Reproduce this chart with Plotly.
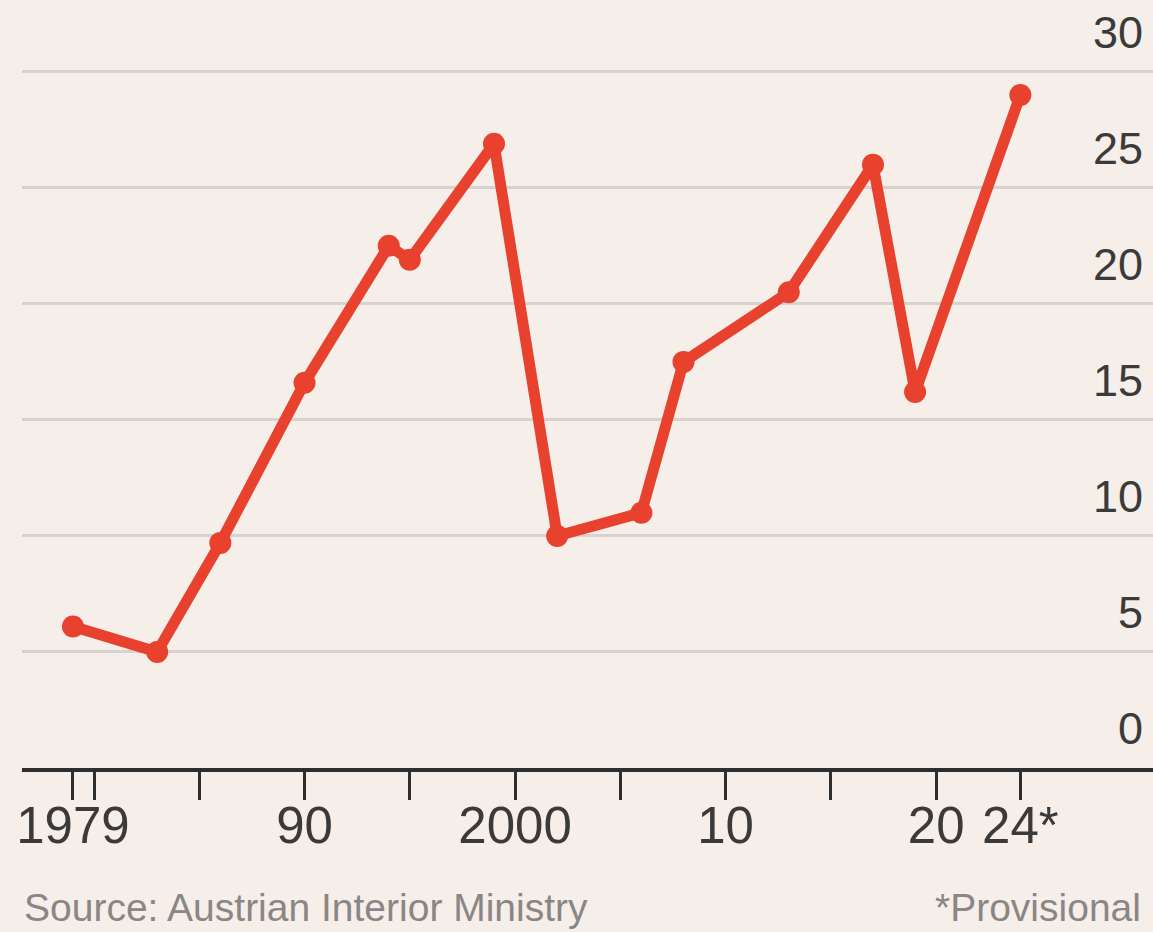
import plotly.graph_objects as go

# Election years and vote share (%)
years = [1979, 1983, 1986, 1990, 1994, 1995, 1999, 2002, 2006, 2008, 2013, 2017, 2019, 2024]
share = [6.1, 5.0, 9.7, 16.6, 22.5, 21.9, 26.9, 10.0, 11.0, 17.5, 20.5, 26.0, 16.2, 29.0]

# Axis ticks
x_tickvals = [1979, 1980, 1985, 1990, 1995, 2000, 2005, 2010, 2015, 2020, 2024]
x_ticktext = ["1979", "", "", "90", "", "2000", "", "10", "", "20", "24*"]
y_tickvals = [0, 5, 10, 15, 20, 25, 30]

BG = "#f6eee9"
RED = "#e8412d"
TEXT = "#3a3a3a"
NOTE = "#8a8685"
FONT = "Liberation Sans, Arial, sans-serif"

fig = go.Figure()
fig.add_trace(go.Scatter(
    x=years, y=share, mode="lines+markers",
    line=dict(color=RED, width=11),
    marker=dict(color=RED, size=22),
    cliponaxis=False, hoverinfo="x+y", showlegend=False,
))

fig.update_layout(
    width=1153, height=932,
    paper_bgcolor=BG, plot_bgcolor=BG,
    margin=dict(l=22, r=0, t=37, b=164),
    font=dict(family=FONT, color=TEXT),
    xaxis=dict(
        range=[1976.58, 2030.3],
        tickmode="array", tickvals=x_tickvals, ticktext=x_ticktext,
        ticks="outside", ticklen=28, tickwidth=3, tickcolor="#2e2e2e",
        showline=True, linecolor="#2e2e2e", linewidth=4,
        showgrid=False, zeroline=False,
        tickfont=dict(size=51, color=TEXT, family=FONT),
        ticklabelstandoff=-18,
    ),
    yaxis=dict(
        range=[0, 31.5],
        side="right", ticklabelposition="inside top",
        ticklabeloverflow="allow",
        tickmode="array", tickvals=y_tickvals,
        ticks="", showline=False, zeroline=False,
        showgrid=True, gridcolor="#d8d1cd", gridwidth=3,
        tickfont=dict(size=45, color=TEXT, family=FONT),
        ticklabelshift=-8, ticklabelstandoff=7,
    ),
    annotations=[
        dict(text="Source: Austrian Interior Ministry", xref="paper", yref="paper",
             x=0, y=0, xanchor="left", yanchor="middle",
             yshift=-139, showarrow=False,
             font=dict(size=39, color=NOTE, family=FONT)),
        dict(text="*Provisional", xref="paper", yref="paper",
             x=1, y=0, xanchor="right", yanchor="middle",
             xshift=-10, yshift=-139, showarrow=False,
             font=dict(size=39, color=NOTE, family=FONT)),
    ],
)

fig.write_html("out.html")
